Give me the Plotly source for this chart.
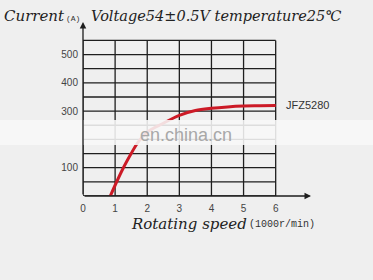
import plotly.graph_objects as go

# ---- data ----
speed = [0.85, 1.0, 1.25, 1.5, 1.7, 2.0, 2.5, 3.0, 3.5, 4.0, 4.5, 5.0, 5.5, 6.0]
current = [0, 38, 98, 150, 188, 226, 257, 285, 302, 310, 315, 318, 319, 320]
x_ticks = [0, 1, 2, 3, 4, 5, 6]
y_ticks = [100, 300, 400, 500]
grid_x = [0, 1, 2, 3, 4, 5, 6]
grid_y = [0, 50, 100, 150, 200, 250, 300, 350, 400, 450, 500, 550]
series_name = "JFZ5280"

W, H = 373, 280
ML, MR, MT, MB = 83, 62, 22, 84
XMAX, YMAX = 7.1, 615
BG = "#efefef"

def px(xp):
    return (xp - ML) / (W - ML - MR)

def py(yp):
    return (H - MB - yp) / (H - MT - MB)

fig = go.Figure()
fig.add_trace(go.Scatter(x=speed, y=current, mode="lines",
                         line=dict(color="#cc1a26", width=3, shape="spline"),
                         showlegend=False, hoverinfo="skip"))

shapes = []
gx0, gx1 = min(grid_x), max(grid_x)
gy0, gy1 = min(grid_y), max(grid_y)
for gx in grid_x:
    shapes.append(dict(type="line", xref="x", yref="y", x0=gx, x1=gx, y0=gy0, y1=gy1,
                       line=dict(color="#1e1e1e", width=1.3), layer="below"))
for gy in grid_y:
    shapes.append(dict(type="line", xref="x", yref="y", x0=gx0, x1=gx1, y0=gy, y1=gy,
                       line=dict(color="#1e1e1e", width=1.3), layer="below"))
# watermark band
shapes.append(dict(type="rect", xref="paper", yref="paper", x0=-1, x1=2,
                   y0=py(145), y1=py(120), fillcolor="#f8f8f8", opacity=0.88,
                   line=dict(width=0), layer="above"))

annotations = []
# axis arrows
annotations.append(dict(x=XMAX, y=0, ax=0, ay=0, xref="x", yref="y", axref="x", ayref="y",
                        showarrow=True, arrowhead=2, arrowsize=1, arrowwidth=1.3,
                        arrowcolor="#1e1e1e", text=""))
annotations.append(dict(x=0, y=YMAX, ax=0, ay=0, xref="x", yref="y", axref="x", ayref="y",
                        showarrow=True, arrowhead=2, arrowsize=1, arrowwidth=1.3,
                        arrowcolor="#1e1e1e", text=""))

serif = "DejaVu Serif"
annotations.append(dict(x=px(2), y=py(16), xref="paper", yref="paper", xanchor="left",
                        yanchor="middle", showarrow=False, text="Current",
                        font=dict(family=serif, size=15, style="italic", color="#222")))
annotations.append(dict(x=px(64), y=py(18), xref="paper", yref="paper", xanchor="left",
                        yanchor="middle", showarrow=False, text="(A)",
                        font=dict(family="Liberation Mono", size=8, color="#333")))
annotations.append(dict(x=px(89), y=py(16), xref="paper", yref="paper", xanchor="left",
                        yanchor="middle", showarrow=False,
                        text="Voltage54±0.5V temperature25℃",
                        font=dict(family=serif, size=14.5, style="italic", color="#222")))
annotations.append(dict(x=px(129), y=py(224), xref="paper", yref="paper", xanchor="left",
                        yanchor="middle", showarrow=False, text="Rotating speed",
                        font=dict(family=serif, size=15, style="italic", color="#222")))
annotations.append(dict(x=px(247), y=py(224), xref="paper", yref="paper", xanchor="left",
                        yanchor="middle", showarrow=False, text="(1000r/min)",
                        font=dict(family="Liberation Mono", size=10, color="#333")))
annotations.append(dict(x=6, y=current[-1], xref="x", yref="y", xanchor="left",
                        yanchor="middle", xshift=8, showarrow=False, text=series_name,
                        font=dict(family="Liberation Sans", size=11, color="#333")))
annotations.append(dict(x=px(186), y=py(135), xref="paper", yref="paper", xanchor="center",
                        yanchor="middle", showarrow=False, text="en.china.cn",
                        font=dict(family="Liberation Sans", size=18, color="#a8a8a8")))

fig.update_layout(
    width=W, height=H,
    margin=dict(l=ML, r=MR, t=MT, b=MB),
    paper_bgcolor=BG, plot_bgcolor=BG,
    shapes=shapes, annotations=annotations,
    xaxis=dict(range=[0, XMAX], tickvals=x_ticks, showgrid=False, zeroline=False,
               showline=False, ticks="", ticklabelstandoff=5,
               tickfont=dict(family="Liberation Sans", size=10, color="#444")),
    yaxis=dict(range=[0, YMAX], tickvals=y_ticks, showgrid=False, zeroline=False,
               showline=False, ticks="", ticklabelstandoff=4,
               tickfont=dict(family="Liberation Sans", size=10, color="#444")),
    showlegend=False,
)

fig.write_html("out.html")
